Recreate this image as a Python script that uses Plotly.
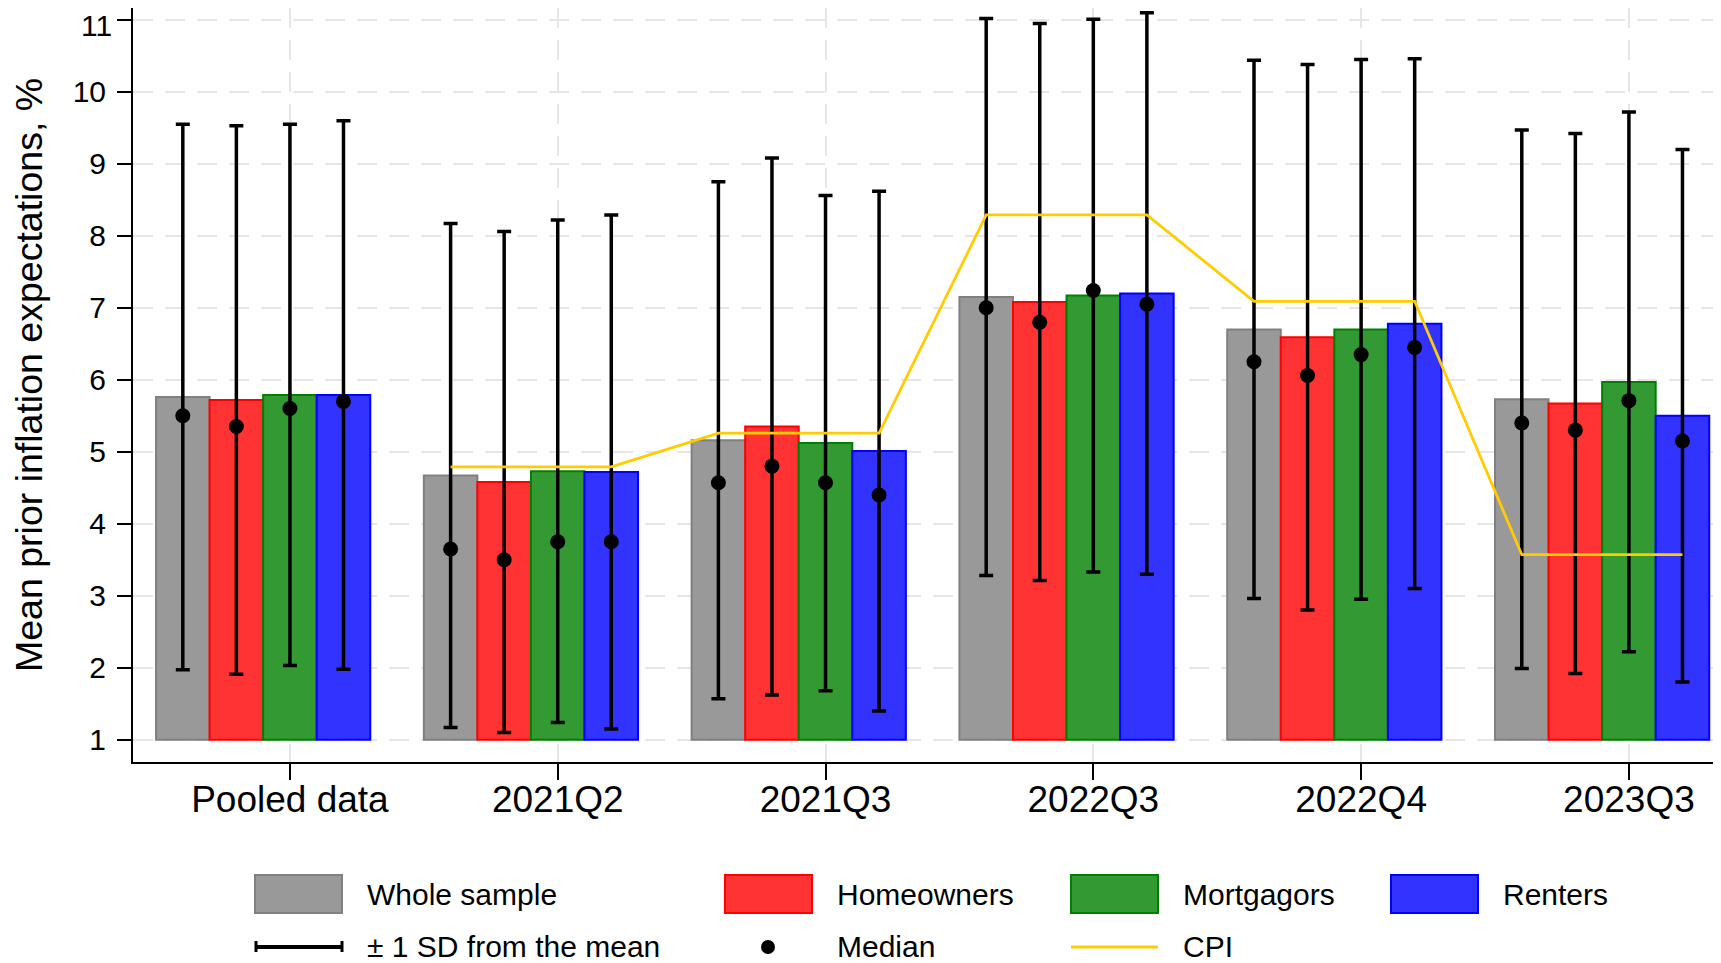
import plotly.graph_objects as go

# ---------------- data ----------------
categories = ["Pooled data", "2021Q2", "2021Q3", "2022Q3", "2022Q4", "2023Q3"]
series_names = ["Whole sample", "Homeowners", "Mortgagors", "Renters"]

mean_whole = [5.76, 4.67, 5.16, 7.15, 6.70, 5.73]
mean_home = [5.72, 4.58, 5.35, 7.08, 6.59, 5.67]
mean_mort = [5.79, 4.73, 5.12, 7.17, 6.70, 5.97]
mean_rent = [5.79, 4.72, 5.01, 7.20, 6.78, 5.50]

sd_whole = [3.79, 3.50, 3.59, 3.87, 3.74, 3.74]
sd_home = [3.81, 3.48, 3.73, 3.87, 3.79, 3.75]
sd_mort = [3.76, 3.49, 3.44, 3.84, 3.75, 3.75]
sd_rent = [3.81, 3.57, 3.61, 3.90, 3.68, 3.70]

median_whole = [5.50, 3.65, 4.57, 7.00, 6.25, 5.40]
median_home = [5.35, 3.50, 4.80, 6.80, 6.06, 5.30]
median_mort = [5.60, 3.75, 4.57, 7.24, 6.35, 5.71]
median_rent = [5.70, 3.75, 4.40, 7.05, 6.45, 5.15]

cpi_quarters = ["2021Q2", "2021Q3", "2022Q3", "2022Q4", "2023Q3"]
cpi_values = [4.79, 5.26, 8.29, 7.09, 3.57]

y_ticks = [1, 2, 3, 4, 5, 6, 7, 8, 9, 10, 11]

# ---------------- styles ----------------
means = [mean_whole, mean_home, mean_mort, mean_rent]
sds = [sd_whole, sd_home, sd_mort, sd_rent]
medians = [median_whole, median_home, median_mort, median_rent]
fills = ["#999999", "#ff3333", "#339933", "#3333ff"]
edges = ["#808080", "#ff0000", "#008000", "#0000ff"]
offsets = [-0.4, -0.2, 0.0, 0.2]
bar_w = 0.2
base_val = 1
FONT = "Liberation Sans, Arial, sans-serif"
CPI_COLOR = "#ffcc00"

group_pos = list(range(len(categories)))

fig = go.Figure()

for k in range(4):
    xs = [g + offsets[k] for g in group_pos]
    fig.add_trace(go.Bar(
        x=xs, y=[m - base_val for m in means[k]], base=base_val, width=bar_w,
        name=series_names[k],
        marker=dict(color=fills[k], line=dict(color=edges[k], width=2)),
        showlegend=False,
    ))

for k in range(4):
    xs = [g + offsets[k] for g in group_pos]
    fig.add_trace(go.Scatter(
        x=xs, y=means[k], mode="markers",
        marker=dict(size=1, opacity=0),
        error_y=dict(type="data", array=sds[k], symmetric=True,
                     color="black", thickness=3.5, width=7),
        name="± 1 SD " + series_names[k], showlegend=False, hoverinfo="skip",
    ))

for k in range(4):
    xs = [g + offsets[k] for g in group_pos]
    fig.add_trace(go.Scatter(
        x=xs, y=medians[k], mode="markers",
        marker=dict(size=15, color="black"),
        name="Median " + series_names[k], showlegend=False,
    ))

cpi_x, cpi_y = [], []
for q, v in zip(cpi_quarters, cpi_values):
    g = categories.index(q)
    cpi_x += [g + offsets[0], g + offsets[3]]
    cpi_y += [v, v]
fig.add_trace(go.Scatter(
    x=cpi_x, y=cpi_y, mode="lines",
    line=dict(color=CPI_COLOR, width=2.8),
    name="CPI", showlegend=False,
))

# ---------------- layout ----------------
# page body adds an 8px offset; reference pixel coords are shifted accordingly
SH = 8
FW, FH = 1721 - SH, 963 - SH
L, R, T, B = 133, 1713, 8, 762          # plot area in reference pixels
PW, PH = R - L, B - T


def px(xp):
    return (xp - L) / PW


def py(yp):
    return (B - yp) / PH


grid = dict(showgrid=True, gridcolor="#e6e6e6", gridwidth=2, griddash="20px,12px")

# the topmost tick label sits at the very top edge; it is drawn as an annotation
top_tick = y_ticks[-1]
y_ticktext = [str(v) if v != top_tick else "" for v in y_ticks]

fig.update_layout(
    width=FW, height=FH,
    margin=dict(l=L - SH, r=(1721 - R), t=T - SH, b=963 - B, pad=0, autoexpand=False),
    paper_bgcolor="white", plot_bgcolor="white",
    barmode="overlay",
    font=dict(family=FONT, color="black"),
    xaxis=dict(
        range=[-0.586, 5.314], automargin=False,
        tickmode="array", tickvals=group_pos, ticktext=categories,
        ticks="outside", ticklen=16, tickwidth=2, tickcolor="black",
        tickfont=dict(size=37, family=FONT, color="black"),
        showline=True, linecolor="black", linewidth=2,
        zeroline=False, ticklabelstandoff=-12, ticklabeloverflow="allow",
        **grid,
    ),
    yaxis=dict(
        range=[0.690, 11.165], automargin=False,
        tickmode="array", tickvals=y_ticks, ticktext=y_ticktext,
        ticks="outside", ticklen=14, tickwidth=2, tickcolor="black",
        tickfont=dict(size=30, family=FONT, color="black"),
        showline=True, linecolor="black", linewidth=2,
        zeroline=False, ticklabelstandoff=5, ticklabeloverflow="allow",
        **grid,
    ),
)

annotations = [
    dict(
        text="Mean prior inflation expectations, %", textangle=-90,
        xref="paper", yref="paper", x=px(29), y=py(375), xanchor="center", yanchor="middle",
        showarrow=False, font=dict(size=37.5, family=FONT, color="black"),
    ),
    dict(
        text=str(top_tick), xref="paper", yref="paper",
        x=px(113), y=py(8), xanchor="right", yanchor="top",
        showarrow=False, font=dict(size=30, family=FONT, color="black"),
        borderpad=0,
    ),
]
shapes = []

# legend (drawn manually to match the reference layout)
sw_x = [255, 725, 1071, 1391]
txt_x = [365, 835, 1181, 1501]
row1_top, row1_bot, row1_mid = 875, 913, 894
row2_mid = 946
LEG_FONT = 30
for k in range(4):
    shapes.append(dict(type="rect", xref="paper", yref="paper",
                       x0=px(sw_x[k]), x1=px(sw_x[k] + 87), y0=py(row1_bot), y1=py(row1_top),
                       fillcolor=fills[k], line=dict(color=edges[k], width=2)))
    annotations.append(dict(text=series_names[k], xref="paper", yref="paper",
                            x=px(txt_x[k]), y=py(row1_mid), xanchor="left", yanchor="middle",
                            showarrow=False, font=dict(size=LEG_FONT, family=FONT, color="black")))
# SD symbol
shapes.append(dict(type="line", xref="paper", yref="paper",
                   x0=px(256), x1=px(342), y0=py(row2_mid + 1), y1=py(row2_mid + 1),
                   line=dict(color="black", width=4)))
for xx in (256, 342):
    shapes.append(dict(type="line", xref="paper", yref="paper",
                       x0=px(xx), x1=px(xx), y0=py(row2_mid - 5), y1=py(row2_mid + 6),
                       line=dict(color="black", width=3)))
# median symbol
shapes.append(dict(type="circle", xref="paper", yref="paper",
                   x0=px(761), x1=px(775), y0=py(row2_mid + 8), y1=py(row2_mid - 6),
                   fillcolor="black", line=dict(color="black", width=0)))
# CPI symbol
shapes.append(dict(type="line", xref="paper", yref="paper",
                   x0=px(1071), x1=px(1158), y0=py(row2_mid + 1), y1=py(row2_mid + 1),
                   line=dict(color=CPI_COLOR, width=3)))
row2_labels = ["± 1 SD from the mean", "Median", "CPI"]
for lab, xx in zip(row2_labels, [365, 835, 1181]):
    annotations.append(dict(text=lab, xref="paper", yref="paper",
                            x=px(xx), y=py(row2_mid), xanchor="left", yanchor="middle",
                            showarrow=False, font=dict(size=LEG_FONT, family=FONT, color="black")))

fig.update_layout(annotations=annotations, shapes=shapes)

fig.write_html("out.html")
